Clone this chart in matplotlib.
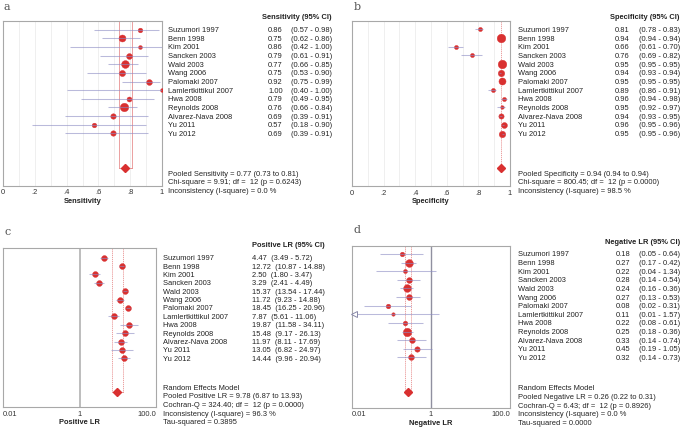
import numpy as np
import matplotlib
matplotlib.use("Agg")
import matplotlib.pyplot as plt
from matplotlib.transforms import blended_transform_factory

plt.rcParams['font.family'] = ['Liberation Sans', 'DejaVu Sans']

studies = ["Suzumori 1997", "Benn 1998", "Kim 2001", "Sancken 2003", "Wald 2003",
           "Wang 2006", "Palomaki 2007", "Lamlertkittikul 2007", "Hwa 2008",
           "Reynolds 2008", "Alvarez-Nava 2008", "Yu 2011", "Yu 2012"]

sens = [0.86, 0.75, 0.86, 0.79, 0.77, 0.75, 0.92, 1.00, 0.79, 0.76, 0.69, 0.57, 0.69]
sens_lo = [0.57, 0.62, 0.42, 0.61, 0.66, 0.53, 0.75, 0.40, 0.49, 0.66, 0.39, 0.18, 0.39]
sens_hi = [0.98, 0.86, 1.00, 0.91, 0.85, 0.90, 0.99, 1.00, 0.95, 0.84, 0.91, 0.90, 0.91]
sens_w = [4.9, 11.0, 3.3, 7.6, 13.7, 8.5, 7.6, 3.3, 5.6, 16.1, 6.7, 4.9, 6.7]
sens_pool = (0.77, 0.73, 0.81)

spec = [0.81, 0.94, 0.66, 0.76, 0.95, 0.94, 0.95, 0.89, 0.96, 0.95, 0.94, 0.96, 0.95]
spec_lo = [0.78, 0.94, 0.61, 0.69, 0.95, 0.93, 0.95, 0.86, 0.94, 0.92, 0.93, 0.95, 0.95]
spec_hi = [0.83, 0.94, 0.70, 0.82, 0.95, 0.94, 0.95, 0.91, 0.98, 0.97, 0.95, 0.96, 0.96]
spec_w = [3.8, 16.7, 3.8, 3.8, 16.7, 9.5, 11.3, 3.8, 3.8, 2.8, 6.3, 7.8, 9.5]
spec_pool = (0.94, 0.94, 0.94)

plr = [4.47, 12.72, 2.50, 3.29, 15.37, 11.72, 18.45, 7.87, 19.87, 15.48, 11.97, 13.05, 14.44]
plr_lo = [3.49, 10.87, 1.80, 2.41, 13.54, 9.23, 16.25, 5.61, 11.58, 9.17, 8.11, 6.82, 9.96]
plr_hi = [5.72, 14.88, 3.47, 4.49, 17.44, 14.88, 20.96, 11.06, 34.11, 26.13, 17.69, 24.97, 20.94]
plr_w = [7.7] * 13
plr_pool = (9.78, 6.87, 13.93)

nlr = [0.18, 0.27, 0.22, 0.28, 0.24, 0.27, 0.08, 0.11, 0.22, 0.25, 0.33, 0.45, 0.32]
nlr_lo = [0.05, 0.17, 0.04, 0.14, 0.16, 0.13, 0.02, 0.01, 0.08, 0.18, 0.14, 0.19, 0.14]
nlr_hi = [0.64, 0.42, 1.34, 0.54, 0.36, 0.53, 0.31, 1.57, 0.61, 0.36, 0.74, 1.05, 0.73]
nlr_w = [4.8, 13.4, 3.7, 7.5, 13.4, 7.5, 4.8, 2.7, 4.8, 15.9, 7.5, 6.6, 7.5]
nlr_pool = (0.26, 0.22, 0.31)

sens_stats = ["Pooled Sensitivity = 0.77 (0.73 to 0.81)",
              "Chi-square = 9.91; df =  12 (p = 0.6243)",
              "Inconsistency (I-square) = 0.0 %"]
spec_stats = ["Pooled Specificity = 0.94 (0.94 to 0.94)",
              "Chi-square = 800.45; df =  12 (p = 0.0000)",
              "Inconsistency (I-square) = 98.5 %"]
plr_stats = ["Random Effects Model",
             "Pooled Positive LR = 9.78 (6.87 to 13.93)",
             "Cochran-Q = 324.40; df =  12 (p = 0.0000)",
             "Inconsistency (I-square) = 96.3 %",
             "Tau-squared = 0.3895"]
nlr_stats = ["Random Effects Model",
             "Pooled Negative LR = 0.26 (0.22 to 0.31)",
             "Cochran-Q = 6.43; df =  12 (p = 0.8926)",
             "Inconsistency (I-square) = 0.0 %",
             "Tau-squared = 0.0000"]

W, H = 685, 431
fig = plt.figure(figsize=(W / 100, H / 100), dpi=100)

RED = "#d93030"
CI_COL = "#8c8cc4"
POOL_COL = "#e89090"
TXT = "#222222"
FS = 5.4


def px_axes(x0, y0, x1, y1):
    return fig.add_axes([x0 / W, 1 - y1 / H, (x1 - x0) / W, (y1 - y0) / H])


def fx(px):
    return px / W


def fy(py):
    return 1 - py / H


def forest(ax, est, lo, hi, w, pool, log=False, xlim=(0, 1), ylim=(18, -1),
           vlines_dotted=True, pool_lines=None):
    n = len(est)
    ys = np.arange(n)
    pooled_y = 16
    ax.set_xlim(*xlim)
    ax.set_ylim(*ylim)
    if log:
        ax.set_xscale('log')
    for spine in ax.spines.values():
        spine.set_color("#a8a8a8")
        spine.set_linewidth(0.8)
    ax.set_yticks([])
    ax.tick_params(axis='x', length=0, pad=2, labelsize=FS, colors="#333333")
    lines = pool_lines if pool_lines is not None else [pool[1], pool[2]]
    for xv in lines:
        ax.plot([xv, xv], [ylim[1], pooled_y], color=POOL_COL,
                lw=0.6, ls=(0, (1.5, 1)) if vlines_dotted else '-', zorder=2)
    for i in range(n):
        d = 2.1 * np.sqrt(w[i]) * 0.72
        ax.plot(est[i], ys[i], 'o', color=RED, ms=d, mec=RED, mew=0.3, zorder=3)
        l = max(lo[i], xlim[0])
        ax.plot([l, hi[i]], [ys[i], ys[i]], color=CI_COL, lw=0.75, alpha=0.6,
                zorder=4, solid_capstyle='butt')
    ax.plot([pool[1], pool[2]], [pooled_y, pooled_y], color=POOL_COL, lw=0.7, zorder=2)
    ax.plot(pool[0], pooled_y, 'D', color=RED, ms=4.3, zorder=3)
    return ys


def side_text(ax, names, est, lo, hi, name_x, val_x, ci_x, fmt_val, mode="fixed"):
    tr = blended_transform_factory(fig.transFigure, ax.transData)
    for i, nm in enumerate(names):
        ax.text(fx(name_x), i, nm, transform=tr, fontsize=FS, va='center',
                ha='left', color=TXT, clip_on=False)
        if mode == "fixed":
            ax.text(fx(val_x), i, fmt_val(est[i]), transform=tr, fontsize=FS,
                    va='center', ha='left', color=TXT, clip_on=False)
            ax.text(fx(ci_x), i, "(%s - %s)" % (fmt_val(lo[i]), fmt_val(hi[i])),
                    transform=tr, fontsize=FS, va='center', ha='left',
                    color=TXT, clip_on=False)
        else:
            ax.text(fx(val_x), i, "%s  (%s - %s)" % (fmt_val(est[i]), fmt_val(lo[i]),
                                                    fmt_val(hi[i])),
                    transform=tr, fontsize=FS, va='center', ha='left',
                    color=TXT, clip_on=False)


f2 = lambda v: "%.2f" % v

# ---------------- Panel a ----------------
axa = px_axes(3, 22.3, 162, 186.7)
for g in np.arange(0.1, 1.0, 0.1):
    axa.axvline(g, color="#ececec", lw=0.6, zorder=0)
forest(axa, sens, sens_lo, sens_hi, sens_w, sens_pool, xlim=(0, 1), ylim=(18.05, -0.97),
       vlines_dotted=False)
axa.set_xticks([0, 0.2, 0.4, 0.6, 0.8, 1.0])
axa.set_xticklabels(["0", ".2", ".4", ".6", ".8", "1"])
axa.set_xlabel("Sensitivity", fontsize=FS, fontweight='bold', labelpad=1, color=TXT)
side_text(axa, studies, sens, sens_lo, sens_hi, 168, 268, 291, f2)
fig.text(fx(332), fy(17.7), "Sensitivity (95% CI)", fontsize=FS, fontweight='bold',
         ha='right', va='center', color=TXT)
for k, s in enumerate(sens_stats):
    fig.text(fx(168), fy(174 + 8.8 * k), s, fontsize=FS, ha='left', va='center', color=TXT)
fig.text(fx(7), fy(7), "a", fontsize=8, family='DejaVu Serif', color="#555555",
         ha='center', va='center')

# ---------------- Panel b ----------------
axb = px_axes(352, 22, 510, 187)
for g in np.arange(0.1, 1.0, 0.1):
    axb.axvline(g, color="#ececec", lw=0.6, zorder=0)
forest(axb, spec, spec_lo, spec_hi, spec_w, spec_pool, xlim=(0, 1), ylim=(18.05, -0.97),
       vlines_dotted=True, pool_lines=[spec_pool[0]])
axb.set_xticks([0, 0.2, 0.4, 0.6, 0.8, 1.0])
axb.set_xticklabels(["0", ".2", ".4", ".6", ".8", "1"])
axb.set_xlabel("Specificity", fontsize=FS, fontweight='bold', labelpad=1, color=TXT)
side_text(axb, studies, spec, spec_lo, spec_hi, 518, 615, 639, f2)
fig.text(fx(679), fy(17.7), "Specificity (95% CI)", fontsize=FS, fontweight='bold',
         ha='right', va='center', color=TXT)
for k, s in enumerate(spec_stats):
    fig.text(fx(518), fy(174 + 8.8 * k), s, fontsize=FS, ha='left', va='center', color=TXT)
fig.text(fx(357), fy(7), "b", fontsize=8, family='DejaVu Serif', color="#555555",
         ha='center', va='center')

# ---------------- Panel c ----------------
axc = px_axes(3, 249.3, 156, 408.3)
axc.axvline(1, color="#bdbdbd", lw=1.4, zorder=1)
forest(axc, plr, plr_lo, plr_hi, plr_w, plr_pool, log=True, xlim=(0.01, 100),
       ylim=(17.85, -1.12), vlines_dotted=True)
axc.set_xticks([0.01, 1, 100])
axc.set_xticklabels(["0.01", "1", "100.0"])
axc.minorticks_off()
tl = axc.get_xticklabels()
tl[0].set_ha('left'); tl[-1].set_ha('right')
axc.set_xlabel("Positive LR", fontsize=FS, fontweight='bold', labelpad=1, color=TXT)
side_text(axc, studies, plr, plr_lo, plr_hi, 163, 252, None, f2, mode="inline")
fig.text(fx(325), fy(246), "Positive LR (95% CI)", fontsize=FS, fontweight='bold',
         ha='right', va='center', color=TXT)
for k, s in enumerate(plr_stats):
    fig.text(fx(163), fy(388.3 + 8.67 * k), s, fontsize=FS, ha='left', va='center', color=TXT)
fig.text(fx(8), fy(232), "c", fontsize=8, family='DejaVu Serif', color="#555555",
         ha='center', va='center')

# ---------------- Panel d ----------------
axd = px_axes(352, 246.7, 510, 408.5)
axd.axvline(1, color="#9090a0", lw=1.0, zorder=1)
ysd = forest(axd, nlr, nlr_lo, nlr_hi, nlr_w, nlr_pool, log=True, xlim=(0.01, 100),
             ylim=(17.8, -0.96), vlines_dotted=True)
for i in range(len(nlr)):
    if nlr_lo[i] <= 0.01:
        axd.plot(0.0115, ysd[i], '<', ms=4, mfc='white', mec="#8888a8", mew=0.7,
                 zorder=5, clip_on=False)
axd.set_xticks([0.01, 1, 100])
axd.set_xticklabels(["0.01", "1", "100.0"])
axd.minorticks_off()
tl = axd.get_xticklabels()
tl[0].set_ha('left'); tl[-1].set_ha('right')
axd.set_xlabel("Negative LR", fontsize=FS, fontweight='bold', labelpad=1, color=TXT)
side_text(axd, studies, nlr, nlr_lo, nlr_hi, 518, 616, 639, f2)
fig.text(fx(680), fy(243), "Negative LR (95% CI)", fontsize=FS, fontweight='bold',
         ha='right', va='center', color=TXT)
for k, s in enumerate(nlr_stats):
    fig.text(fx(518), fy(389 + 8.6 * k), s, fontsize=FS, ha='left', va='center', color=TXT)
fig.text(fx(357), fy(230), "d", fontsize=8, family='DejaVu Serif', color="#555555",
         ha='center', va='center')

fig.savefig("out.png", dpi=100, facecolor='white')
